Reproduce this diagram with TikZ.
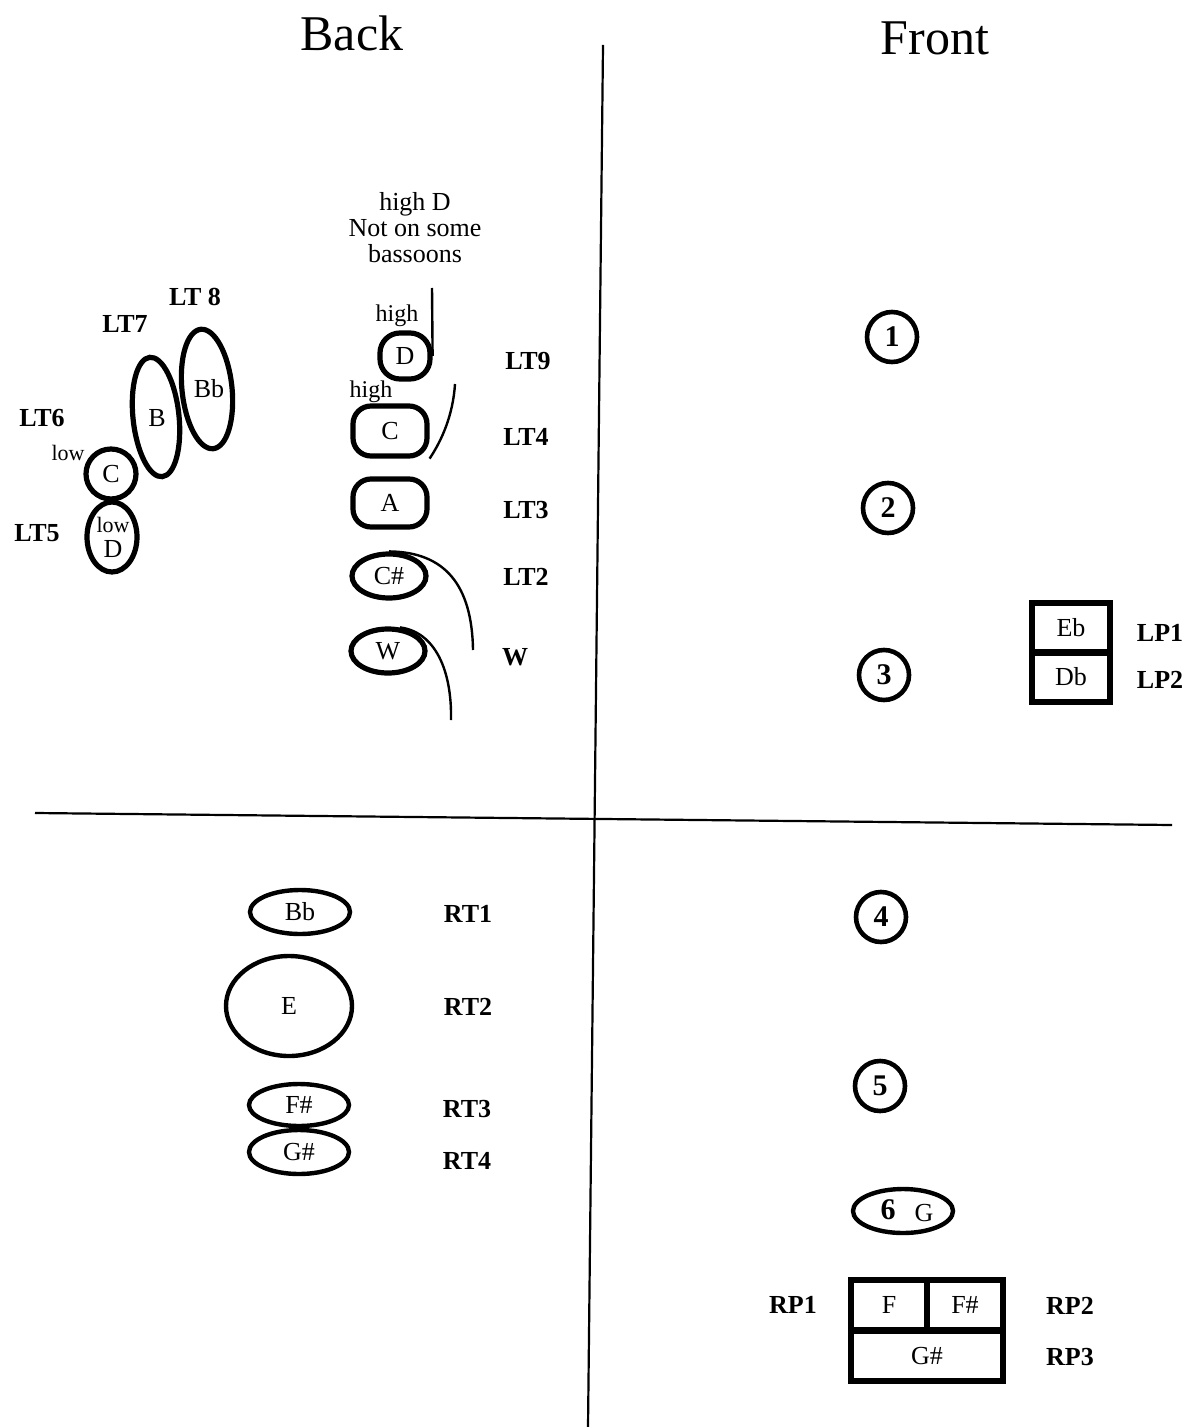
\documentclass[tikz,border=0pt]{standalone}
\usepackage{fontspec}
\setmainfont{Liberation Serif}
\usetikzlibrary{shapes.geometric,calc}
\begin{document}
\begin{tikzpicture}[x=0.5pt,y=-0.5pt,
  key/.style={draw, line width=2.6pt, inner sep=0pt, font=\fontsize{13}{15}\selectfont},
  ekey/.style={key, ellipse},
  rkey/.style={key, rectangle, rounded corners=9pt},
  num/.style={draw, circle, line width=2.3pt, minimum size=25pt, inner sep=0pt, font=\fontsize{15}{17}\selectfont\bfseries},
  lab/.style={font=\fontsize{13}{15}\selectfont\bfseries},
  txt/.style={font=\fontsize{13}{15}\selectfont},
  small/.style={font=\fontsize{11}{13}\selectfont},
  head/.style={font=\fontsize{25}{28}\selectfont},
  axis/.style={line width=1.1pt},
  stem/.style={line width=1.2pt},
  pbox/.style={draw, line width=2.6pt, inner sep=0pt, font=\fontsize{13}{15}\selectfont}]
\useasboundingbox (0,0) rectangle (1189,1427);

% axes
\coordinate (vt) at (603,45);
\coordinate (vb) at (588,1427);
\coordinate (hl) at (35,813);
\coordinate (hr) at (1172,825);
\draw[axis] (vt) -- (vb);
\draw[axis] (hl) -- (hr);

\node[head] (back) at (352,33) {Back};
\node[head] (front) at (935,38) {Front};

% left thumb, low keys
\node[ekey, minimum width=25pt, minimum height=35pt] (lt5) at (112,537) {};
\node[small, inner sep=0pt] (lt5low) at (113,525) {low};
\node[txt, inner sep=0pt] (lt5D) at (113,549) {D};
\node[lab] (lt5l) at (37,533) {LT5};

\node[ekey, minimum size=25pt] (lt6) at (111,474) {C};
\node[small] (lt6low) at (68,453) {low};
\node[lab] (lt6l) at (42,418) {LT6};

\node[ekey, minimum width=23pt, minimum height=60pt, rotate=6] (lt7) at (156,417) {};
\node[txt] (lt7t) at (157,418) {B};
\node[lab] (lt7l) at (125,324) {LT7};

\node[ekey, minimum width=25pt, minimum height=60pt, rotate=6] (lt8) at (207,389) {};
\node[txt] (lt8t) at (209,389) {Bb};
\node[lab] (lt8l) at (195,297) {LT 8};

% left thumb, upper keys
\node[txt, align=center] (hdnote) at (415,228) {high D\\[-2pt]Not on some\\[-2pt]bassoons};
\node[rkey, minimum width=25pt, minimum height=23pt, rounded corners=10pt] (hD) at (405,356) {D};
\node[font=\fontsize{12}{14}\selectfont] (hDh) at (397,316) {high};
\node[lab] (lt9l) at (528,361) {LT9};
\coordinate (hdtop) at (432,288);
\draw[stem] (hdtop) -- (hD.east);

\node[rkey, minimum width=37pt, minimum height=25pt] (hC) at (390,431) {C};
\node[font=\fontsize{12}{14}\selectfont] (hCh) at (371,392) {high};
\node[lab] (lt4l) at (526,437) {LT4};
\coordinate (hctop) at (455,384);
\draw[stem] (hctop) .. controls (453,415) and (442,440) .. (hC.south east);

\node[rkey, minimum width=37pt, minimum height=24pt] (A) at (390,503) {A};
\node[lab] (lt3l) at (526,510) {LT3};

\node[ekey, minimum width=37pt, minimum height=22pt] (Cs) at (389,576) {C\#};
\node[lab] (lt2l) at (526,577) {LT2};
\coordinate (csend) at (473,650);
\draw[stem] (Cs.north) .. controls (445,552) and (472,585) .. (csend);

\node[ekey, minimum width=37pt, minimum height=22pt] (W) at (388,651) {W};
\node[lab] (wl) at (515,657) {W};
\coordinate (wend) at (451,720);
\draw[stem] ($(W.north)+(12,1)$) .. controls (435,632) and (452,670) .. (wend);

% front, left hand
\node[num] (n1) at (892,337) {1};
\node[num] (n2) at (888,508) {2};
\node[num] (n3) at (884,675) {3};

\node[pbox, minimum width=39pt, minimum height=25pt] (eb) at (1071,628) {Eb};
\node[pbox, minimum width=39pt, minimum height=25pt] (db) at (1071,677) {Db};
\node[lab] (lp1) at (1160,633) {LP1};
\node[lab] (lp2) at (1160,680) {LP2};

% right thumb
\node[ekey, line width=2.2pt, minimum width=50pt, minimum height=22pt] (rt1) at (300,912) {Bb};
\node[lab] (rt1l) at (468,914) {RT1};
\node[ekey, line width=2.2pt, minimum width=63pt, minimum height=50pt] (rt2) at (289,1006) {E};
\node[lab] (rt2l) at (468,1007) {RT2};
\node[ekey, line width=2.2pt, minimum width=50pt, minimum height=21pt] (rt3) at (299,1105) {F\#};
\node[lab] (rt3l) at (467,1109) {RT3};
\node[ekey, line width=2.2pt, minimum width=50pt, minimum height=22pt] (rt4) at (299,1152) {G\#};
\node[lab] (rt4l) at (467,1161) {RT4};

% front, right hand
\node[num] (n4) at (881,917) {4};
\node[num] (n5) at (880,1086) {5};
\node[ekey, line width=2.2pt, minimum width=50pt, minimum height=22pt] (n6) at (903,1211) {};
\node[font=\fontsize{15}{17}\selectfont\bfseries] (n6t) at (888,1210) {6};
\node[txt] (n6g) at (924,1213) {G};

\node[pbox, minimum width=38pt, minimum height=25pt] (rpF) at (889,1305) {F};
\node[pbox, minimum width=38pt, minimum height=25pt] (rpFs) at (965,1305) {F\#};
\node[pbox, minimum width=76pt, minimum height=25pt] (rpGs) at (927,1356) {G\#};
\node[lab] (rp1) at (793,1305) {RP1};
\node[lab] (rp2) at (1070,1306) {RP2};
\node[lab] (rp3) at (1070,1357) {RP3};
\end{tikzpicture}
\end{document}
